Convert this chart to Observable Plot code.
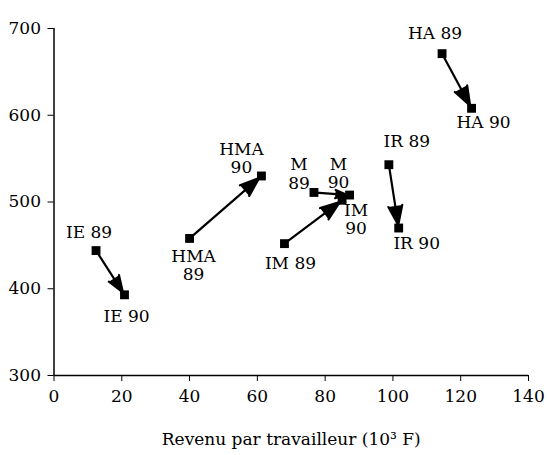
<!DOCTYPE html>
<html>
<head>
<meta charset="utf-8">
<script src="https://cdn.jsdelivr.net/npm/d3@7"></script>
<script src="https://cdn.jsdelivr.net/npm/@observablehq/plot@0.6"></script>
<style>
  body { margin: 0; background: #fff; }
  svg { font-family: "DejaVu Serif", serif; }
</style>
</head>
<body>
<div id="chart"></div>
<script>
// Data
const regions = ["HA", "IR", "M", "IM", "HMA", "IE"];
const x89 = [114.5, 98.8, 76.7, 68.0, 40.0, 12.4];
const y89 = [671, 543, 511, 452, 458, 444];
const x90 = [123.2, 101.7, 87.2, 85.0, 61.2, 20.8];
const y90 = [608, 470, 508, 502, 530, 393];
const xTicks = [0, 20, 40, 60, 80, 100, 120, 140];
const yTicks = [300, 400, 500, 600, 700];

const moves = regions.map((r, i) => ({region: r, x1: x89[i], y1: y89[i], x2: x90[i], y2: y90[i]}));
const points = moves.flatMap(d => [
  {region: d.region, year: "89", x: d.x1, y: d.y1},
  {region: d.region, year: "90", x: d.x2, y: d.y2}
]);

// label placement (layout only)
const labelLayout = {
  "HA 89":  {dx: -7,  dy: -21, two: false},
  "HA 90":  {dx: 12,  dy: 14,  two: false},
  "IR 89":  {dx: 18,  dy: -24, two: false},
  "IR 90":  {dx: 18,  dy: 15,  two: false},
  "M 89":   {dx: -15, dy: -19, two: true},
  "M 90":   {dx: -11, dy: -22, two: true},
  "IM 89":  {dx: 6,   dy: 19,  two: false},
  "IM 90":  {dx: 14,  dy: 19,  two: true},
  "HMA 89": {dx: 4,   dy: 27,  two: true},
  "HMA 90": {dx: -20, dy: -18, two: true},
  "IE 89":  {dx: -7,  dy: -18, two: false},
  "IE 90":  {dx: 2,   dy: 21,  two: false}
};

const labelMarks = points.map(p => {
  const key = `${p.region} ${p.year}`;
  const L = labelLayout[key];
  return Plot.text([p], {
    x: "x", y: "y",
    text: d => L.two ? `${d.region}\n${d.year}` : `${d.region} ${d.year}`,
    dx: L.dx, dy: L.dy,
    lineHeight: 1.08,
    fontSize: 17, fill: "black"
  });
});

const chart = Plot.plot({
  width: 547,
  height: 455,
  marginLeft: 53.5,
  marginRight: 19,
  marginTop: 28,
  marginBottom: 80,
  style: {fontFamily: "DejaVu Serif, serif", fontSize: "17px", background: "white", color: "black"},
  x: {domain: [0, 140]},
  y: {domain: [300, 700]},
  marks: [
    Plot.axisX({ticks: xTicks, tickSize: 6, tickPadding: 8, fontSize: 17, label: "Revenu par travailleur (10³ F)", labelAnchor: "center", labelArrow: "none", labelOffset: 69}),
    Plot.axisY({ticks: yTicks, tickSize: 6, tickPadding: 7, fontSize: 17, label: null}),
    Plot.ruleY([300], {strokeWidth: 1.5}),
    Plot.ruleX([0], {strokeWidth: 1.5}),
    Plot.arrow(moves, {x1: "x1", y1: "y1", x2: "x2", y2: "y2", stroke: "black", fill: "black", strokeWidth: 2.2, strokeLinejoin: "miter", headLength: 14, headAngle: 40, insetEnd: 3, insetStart: 2}),
    Plot.dot(points, {x: "x", y: "y", symbol: "square", r: 5, fill: "black", stroke: null}),
    ...labelMarks
  ]
});
document.getElementById("chart").appendChild(chart);
</script>
</body>
</html>
